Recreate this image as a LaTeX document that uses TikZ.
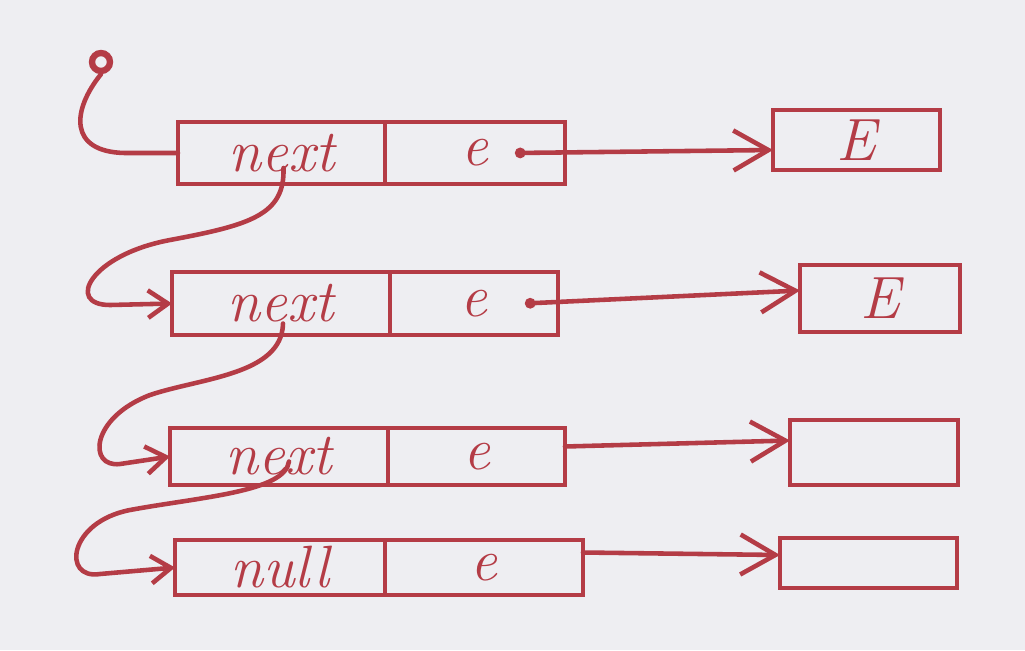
\documentclass[tikz,border=0pt]{standalone}
\usetikzlibrary{arrows.meta,positioning}
\definecolor{ink}{RGB}{180,60,70}
\definecolor{paper}{RGB}{238,238,242}

\begin{document}
\begin{tikzpicture}[x=0.02cm, y=-0.02cm,
        cell/.style={draw=ink, rectangle, line width=2.6pt, inner sep=0pt, outer sep=0pt, text=ink, font=\fontsize{34}{40}\selectfont\itshape},
        link/.style={draw=ink, line width=2.6pt, line cap=round, -{Straight Barb[length=4mm, width=5.5mm]}},
        ref/.style={draw=ink, line width=2.6pt, line cap=round, {Circle[length=6pt]}-{Straight Barb[length=7mm, width=8mm]}},
        plain/.style={draw=ink, line width=2.6pt, line cap=round, -{Straight Barb[length=7mm, width=8mm]}}
    ]
            \fill[paper] (0,0) rectangle (1025,650);
            \useasboundingbox (0,0) rectangle (1025,650);

            \node[draw=ink, circle, line width=3.6pt, minimum size=0.36cm, inner sep=0pt] (head) at (101,62) {};

            \node[cell, minimum width=4.14cm, minimum height=1.24cm] (next1) at (281.5,153) {next};
            \node[cell, minimum width=3.6cm, minimum height=1.24cm, right=0pt of next1] (val1) {e\hspace{1cm}};

            \node[cell, minimum width=4.36cm, minimum height=1.26cm] (next2) at (281,303.5) {next};
            \node[cell, minimum width=3.36cm, minimum height=1.26cm, right=0pt of next2] (val2) {e};

            \node[cell, minimum width=4.36cm, minimum height=1.14cm] (next3) at (279,456.5) {next};
            \node[cell, minimum width=3.54cm, minimum height=1.14cm, right=0pt of next3] (val3) {e};

            \node[cell, minimum width=4.2cm, minimum height=1.1cm] (next4) at (280,567.5) {null\hspace{1cm}};
            \node[cell, minimum width=3.96cm, minimum height=1.1cm, right=0pt of next4] (val4) {e};

            \node[cell, minimum width=3.34cm, minimum height=1.2cm] (obj1) at (856.5,140) {E};
            \node[cell, minimum width=3.2cm, minimum height=1.34cm] (obj2) at (880,298.5) {E};
            \node[cell, minimum width=3.36cm, minimum height=1.3cm] (obj3) at (874,452.5) {};
            \node[cell, minimum width=3.54cm, minimum height=1.0cm] (obj4) at (868.5,563) {};

            \draw[draw=ink, line width=2.6pt, line cap=round] (head.south) .. controls (72,110) and (68,152) .. (125,153) -- (next1.west);

            \draw[link] ([xshift=0.04cm,yshift=-0.3cm]next1.center) .. controls (285,215) and (250,225) .. (170,240) .. controls (90,255) and (65,305) .. (110,305) -- (next2.west);
            \draw[link] ([xshift=0.04cm,yshift=-0.4cm]next2.center) .. controls (282,375) and (200,378) .. (150,395) .. controls (90,418) and (88,468) .. (120,464) -- (next3.west);
            \draw[link] ([xshift=0.2cm,yshift=-0.1cm]next3.center) .. controls (285,492) and (200,497) .. (130,510) .. controls (68,522) and (62,580) .. (100,574) -- (next4.west);

            \draw[ref] ([xshift=-1cm]val1.east) -- ([yshift=-0.2cm]obj1.west);
            \draw[ref] ([xshift=-0.66cm]val2.east) -- ([yshift=0.16cm]obj2.west);
            \draw[plain] ([yshift=0.2cm]val3.east) -- ([yshift=0.24cm]obj3.west);
            \draw[plain] ([yshift=0.3cm]val4.east) -- ([yshift=0.16cm]obj4.west);
        \end{tikzpicture}
\end{document}
